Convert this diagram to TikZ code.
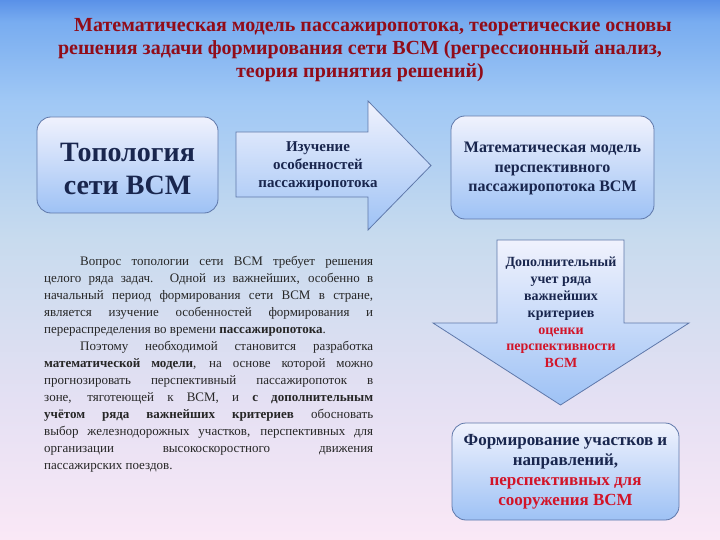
\documentclass[tikz,border=0pt]{standalone}
\usepackage{fontspec}
\setmainfont{Liberation Serif}
\definecolor{navy}{RGB}{25,38,78}
\definecolor{tred}{RGB}{145,12,25}
\definecolor{hred}{RGB}{210,20,40}
\definecolor{edge}{RGB}{95,120,170}
\definecolor{ftop}{RGB}{240,242,253}
\definecolor{fbot}{RGB}{158,194,245}
\definecolor{bga}{RGB}{250,232,246}
\definecolor{bgb}{RGB}{228,224,243}
\definecolor{bgc}{RGB}{200,219,238}
\definecolor{bgd}{RGB}{160,200,245}
\definecolor{bge}{RGB}{120,172,240}
\definecolor{bgf}{RGB}{90,145,232}
\pgfdeclareverticalshading{bgshade}{100bp}{color(0bp)=(bga); color(25bp)=(bga); color(38bp)=(bgb); color(52.8bp)=(bgc); color(65.7bp)=(bgd); color(73bp)=(bge); color(75bp)=(bgf); color(100bp)=(bgf)}
\begin{document}
\begin{tikzpicture}[x=1pt,y=-1pt,
  shp/.style={draw=edge, line width=0.8pt, top color=ftop, bottom color=fbot},
  rbox/.style={shp, rounded corners=14pt, inner sep=0pt},
  lbl/.style={text=navy, font=\bfseries, align=center, inner sep=0pt}]
\useasboundingbox (0,0) rectangle (720,540);
\fill[shading=bgshade] (0,0) rectangle (720,540);
% title
\node[text=tred, font=\fontsize{20}{23}\selectfont\bfseries, inner sep=0pt] (t1) at (373,27) {Математическая модель пассажиропотока, теоретические основы};
\node[text=tred, font=\fontsize{20}{23}\selectfont\bfseries, inner sep=0pt] (t2) at (360,50) {решения задачи формирования сети ВСМ (регрессионный анализ,};
\node[text=tred, font=\fontsize{20}{23}\selectfont\bfseries, inner sep=0pt] (t3) at (360,73) {теория принятия решений)};
% left box
\node[rbox, minimum width=181pt, minimum height=96pt] (topo) at (127.5,165) {};
\node[lbl, font=\fontsize{28}{33}\selectfont\bfseries] (topot) at (127.5,168.5) {Топология\\сети ВСМ};
% right arrow
\draw[shp] (236,132) -- (368,132) -- (368,101) -- (431,165.5) -- (368,230) -- (368,197) -- (236,197) -- cycle;
\node[lbl, font=\fontsize{15}{18}\selectfont\bfseries] (arrt) at (318,166) {Изучение\\особенностей\\пассажиропотока};
% right box
\node[rbox, minimum width=203pt, minimum height=103pt] (model) at (552.5,167.5) {};
\node[lbl, font=\fontsize{16}{19.5}\selectfont\bfseries] (modelt) at (552.5,168.5) {Математическая модель\\перспективного\\пассажиропотока ВСМ};
% down arrow
\draw[shp] (497,240) -- (624,240) -- (624,323) -- (689,323) -- (560.5,405) -- (433,323) -- (497,323) -- cycle;
\node[lbl, font=\fontsize{14}{16.8}\selectfont\bfseries] (downt) at (561,312.5) {Дополнительный\\учет ряда\\важнейших\\критериев\\\textcolor{hred}{оценки}\\\textcolor{hred}{перспективности}\\\textcolor{hred}{ВСМ}};
% bottom box
\node[rbox, minimum width=227pt, minimum height=97pt] (form) at (565.5,471.5) {};
\node[lbl, font=\fontsize{17}{20}\selectfont\bfseries] (formt) at (565.5,472) {Формирование участков и\\направлений,\\\textcolor{hred}{перспективных для}\\\textcolor{hred}{сооружения ВСМ}};
% paragraph
\node[anchor=north west, inner sep=0pt, text width=329pt, align=justify, text=black!85,
  font=\fontsize{13}{17}\selectfont] (para) at (44,256) {\tolerance=10000\hbadness=10000%
\hspace*{36pt}Вопрос топологии сети ВСМ требует решения\linebreak
целого ряда задач. Одной из важнейших, особенно в\linebreak
начальный период формирования сети ВСМ в стране,\linebreak
является изучение особенностей формирования и\linebreak
перераспределения во времени \textbf{пассажиропотока}.\par
\hspace*{36pt}Поэтому необходимой становится разработка\linebreak
\textbf{математической модели}, на основе которой можно\linebreak
прогнозировать перспективный пассажиропоток в\linebreak
зоне, тяготеющей к ВСМ, и \textbf{с дополнительным}\linebreak
\textbf{учётом ряда важнейших критериев} обосновать\linebreak
выбор железнодорожных участков, перспективных для\linebreak
организации высокоскоростного движения\linebreak
пассажирских поездов.};
\end{tikzpicture}
\end{document}
